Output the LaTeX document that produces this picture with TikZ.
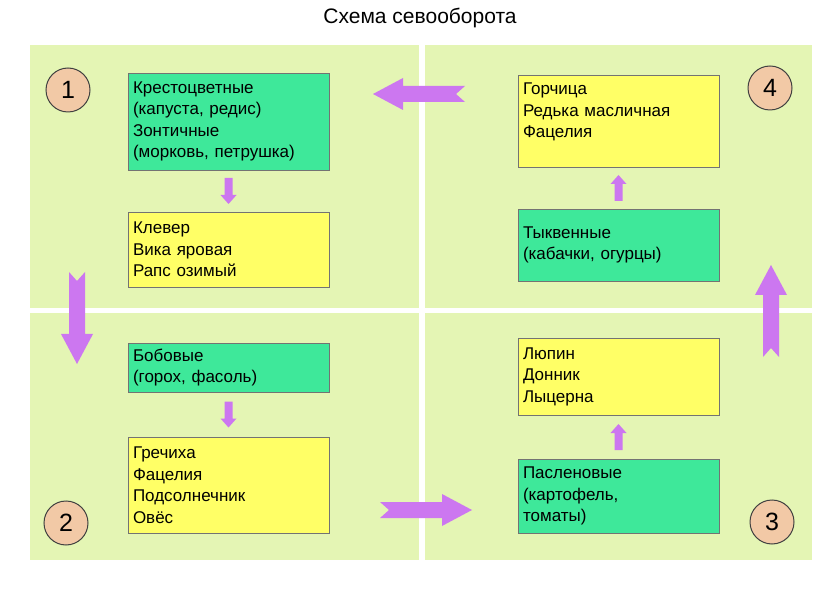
\documentclass[tikz,border=0pt]{standalone}
\usepackage{fontspec}
\setmainfont{Liberation Sans}
\usetikzlibrary{calc}

\definecolor{fieldgreen}{HTML}{E4F5B4}
\definecolor{boxgreen}{HTML}{3EE89A}
\definecolor{boxyellow}{HTML}{FFFF66}
\definecolor{arrowviolet}{HTML}{CC77F0}
\definecolor{circlepeach}{HTML}{F2C9A6}

\begin{document}
\begin{tikzpicture}[
    x=1pt, y=-1pt,
    % Crop box styles
    cropbox/.style={
        rectangle,
        draw=black!55,
        minimum width=201pt,
        text width=191pt,
        inner sep=5pt,
        align=left,
        font=\fontsize{17}{21.5}\selectfont
    },
    greenbox/.style={cropbox, fill=boxgreen},
    yellowbox/.style={cropbox, fill=boxyellow},
    % Field number style
    fieldnum/.style={
        circle,
        draw=black!75,
        line width=1pt,
        fill=circlepeach,
        minimum size=44pt,
        inner sep=0pt,
        font=\fontsize{25}{25}\selectfont
    },
    % Arrow shapes
    bigarrow/.pic={
        \fill[arrowviolet] (0,-8) -- (62,-8) -- (62,-16) -- (92,0) -- (62,16)
            -- (62,8) -- (0,8) -- (9,0) -- cycle;
    },
    smallarrow/.pic={
        \fill[arrowviolet] (-13,-4) -- (4,-4) -- (4,-8) -- (13,0) -- (4,8)
            -- (4,4) -- (-13,4) -- cycle;
    }
]
\useasboundingbox (0,0) rectangle (840,593);

% === Title ===
\node[font=\fontsize{21}{21}\selectfont] (title) at (420,18) {Схема севооборота};

% === Fields ===
\fill[fieldgreen] (30,45) rectangle (812,560);
\fill[white] (419,45) rectangle (425,560);
\fill[white] (30,308) rectangle (812,313);

% === Field 1 ===
\node[fieldnum] (n1) at (68,90) {1};
\node[greenbox, minimum height=97pt] (krest) at (228.5,121.5)
    {Крестоцветные\\(капуста, редис)\\Зонтичные\\(морковь, петрушка)};
\node[yellowbox, minimum height=75pt] (klever) at (228.5,249.5)
    {Клевер\\Вика яровая\\Рапс озимый};

% === Field 2 ===
\node[fieldnum] (n2) at (66,523) {2};
\node[greenbox, minimum height=49pt] (bobovye) at (228.5,367.5)
    {Бобовые\\(горох, фасоль)};
\node[yellowbox, minimum height=96pt] (grechikha) at (228.5,485)
    {Гречиха\\Фацелия\\Подсолнечник\\Овёс};

% === Field 3 ===
\node[fieldnum] (n3) at (772,522) {3};
\node[yellowbox, minimum height=77pt] (lupin) at (618.5,376.5)
    {Люпин\\Донник\\Лыцерна};
\node[greenbox, minimum height=74pt] (paslenovye) at (618.5,496)
    {Пасленовые\\(картофель,\\томаты)};

% === Field 4 ===
\node[fieldnum] (n4) at (770,88) {4};
\node[yellowbox, minimum height=92pt] (gorchitsa) at (618.5,121)
    {Горчица\\Редька масличная\\Фацелия\\\mbox{}};
\node[greenbox, minimum height=72pt] (tykvennye) at (618.5,245)
    {Тыквенные\\(кабачки, огурцы)};

% === Arrows inside fields ===
\pic[rotate=-90] at ($(krest.south)!0.5!(klever.north)$) {smallarrow};
\pic[rotate=-90] at ($(bobovye.south)!0.5!(grechikha.north)$) {smallarrow};
\pic[rotate=90] at ($(paslenovye.north)!0.5!(lupin.south)$) {smallarrow};
\pic[rotate=90] at ($(tykvennye.north)!0.5!(gorchitsa.south)$) {smallarrow};

% === Arrows between fields ===
\pic[rotate=180] at (465,94) {bigarrow};
\pic[rotate=-90] at (77,272) {bigarrow};
\pic at (380,510) {bigarrow};
\pic[rotate=90] at (771,357) {bigarrow};

\end{tikzpicture}
\end{document}
